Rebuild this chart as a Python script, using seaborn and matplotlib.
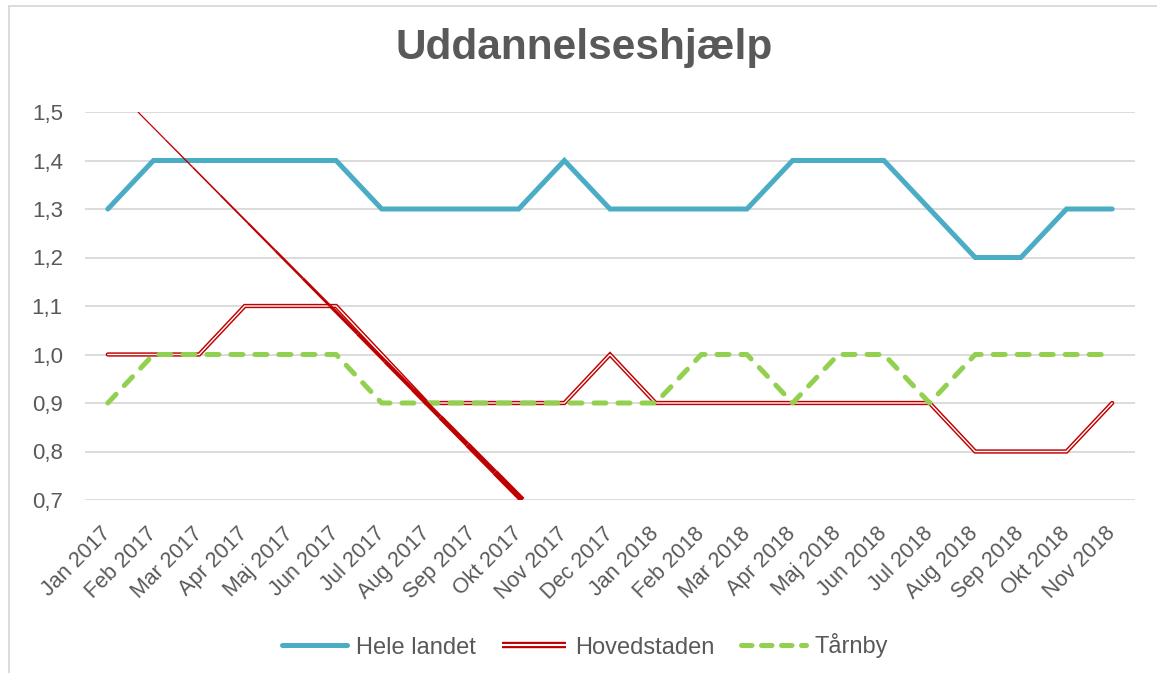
import numpy as np
import pandas as pd
import matplotlib
matplotlib.use("Agg")
import matplotlib.pyplot as plt
import matplotlib.patheffects as pe
import seaborn as sns
from matplotlib.lines import Line2D
from matplotlib.patches import Rectangle

# ---------------- data ----------------
months = ["Jan 2017", "Feb 2017", "Mar 2017", "Apr 2017", "Maj 2017", "Jun 2017",
          "Jul 2017", "Aug 2017", "Sep 2017", "Okt 2017", "Nov 2017", "Dec 2017",
          "Jan 2018", "Feb 2018", "Mar 2018", "Apr 2018", "Maj 2018", "Jun 2018",
          "Jul 2018", "Aug 2018", "Sep 2018", "Okt 2018", "Nov 2018"]
hele_landet = [1.3, 1.4, 1.4, 1.4, 1.4, 1.4, 1.3, 1.3, 1.3, 1.3, 1.4, 1.3,
               1.3, 1.3, 1.3, 1.4, 1.4, 1.4, 1.3, 1.2, 1.2, 1.3, 1.3]
hovedstaden = [1.0, 1.0, 1.0, 1.1, 1.1, 1.1, 1.0, 0.9, 0.9, 0.9, 0.9, 1.0,
               0.9, 0.9, 0.9, 0.9, 0.9, 0.9, 0.9, 0.8, 0.8, 0.8, 0.9]
taarnby = [0.9, 1.0, 1.0, 1.0, 1.0, 1.0, 0.9, 0.9, 0.9, 0.9, 0.9, 0.9,
           0.9, 1.0, 1.0, 0.9, 1.0, 1.0, 0.9, 1.0, 1.0, 1.0, 1.0]
# stray red diagonal stroke visible in the reference (month index, value)
stray_x = [0.66, 9.08]
stray_y = [1.5, 0.7]
yticks = [0.7, 0.8, 0.9, 1.0, 1.1, 1.2, 1.3, 1.4, 1.5]
title = "Uddannelseshjælp"
series_names = ["Hele landet", "Hovedstaden", "Tårnby"]

# ---------------- style ----------------
sns.set_theme(style="white")
plt.rcParams['font.family'] = ['Liberation Sans', 'DejaVu Sans']
TXT = "#595959"
BLUE = "#4BACC6"
RED = "#C00000"
GREEN = "#92D050"
GRID = "#D9D9D9"

df = pd.DataFrame({"idx": np.arange(len(months)),
                   "hele": hele_landet, "hov": hovedstaden, "taa": taarnby})

fig = plt.figure(figsize=(11.57, 6.73), dpi=100)
ax = fig.add_axes([85/1157, 1-500/673, (1135-85)/1157, (500-112)/673])

# gridlines
for yv in yticks:
    ax.axhline(yv, color=GRID, lw=1.3, zorder=0)

double_red = [pe.Stroke(linewidth=3.1, foreground=RED), pe.Normal()]

sns.lineplot(data=df, x="idx", y="hele", ax=ax, color=BLUE, lw=3.6,
             solid_capstyle="round", solid_joinstyle="miter", zorder=3)
sns.lineplot(data=df, x="idx", y="hov", ax=ax, color="white", lw=1.0,
             solid_joinstyle="miter", path_effects=double_red, zorder=4)
sns.lineplot(data=df, x="idx", y="taa", ax=ax, color=GREEN, lw=3.6,
             dashes=False, zorder=5)
ln = ax.lines[-1]
ln.set_dashes((2.4, 2.4))
ln.set_dash_capstyle("round")
ln.set_dash_joinstyle("round")

# stray diagonal, tapering from thin to thick
n = 14
xs = np.linspace(stray_x[0], stray_x[1], n + 1)
ys = np.linspace(stray_y[0], stray_y[1], n + 1)
for i in range(n):
    w = 0.9 + 3.4 * (i / (n - 1)) ** 1.4
    ax.plot(xs[i:i+2], ys[i:i+2], color=RED, lw=w, solid_capstyle="butt", zorder=6)

ax.set_xlim(-0.5, len(months) - 0.5)
ax.set_ylim(0.7, 1.5)
ax.set_yticks(yticks)
ax.set_yticklabels([f"{v:.1f}".replace(".", ",") for v in yticks])
ax.set_xticks(np.arange(len(months)))
ax.set_xticklabels(months, rotation=45, ha="right", va="center",
                   rotation_mode="anchor")
ax.tick_params(axis="x", length=0, pad=22, labelsize=15.5, labelcolor=TXT)
ax.tick_params(axis="y", length=0, pad=16, labelsize=16, labelcolor=TXT)
ax.set_xlabel("")
ax.set_ylabel("")
for s in ax.spines.values():
    s.set_visible(False)
ax.grid(False)
if ax.get_legend():
    ax.get_legend().remove()

# title
fig.text(584/1157, 1-59/673, title, ha="center", va="baseline",
         fontsize=30.5, fontweight="bold", color=TXT)

# legend
h1 = Line2D([], [], color=BLUE, lw=3.6, solid_capstyle="round")
h2 = Line2D([], [], color="white", lw=1.5, solid_capstyle="butt",
            path_effects=[pe.Stroke(linewidth=4.6, foreground=RED), pe.Normal()])
h3 = Line2D([], [], color=GREEN, lw=3.6, dashes=(2.1, 1.9), dash_capstyle="round")
fig.legend([h1, h2, h3], series_names, loc="center",
           bbox_to_anchor=(585/1157, 1-646/673), ncol=3, frameon=False,
           fontsize=17, labelcolor=TXT, handlelength=2.75, handletextpad=0.38,
           columnspacing=1.1)

# chart-area border
fig.patches.append(Rectangle((9/1157, -0.05), 1.2, 1 - 6/673 + 0.05,
                             transform=fig.transFigure, fill=False,
                             edgecolor=GRID, lw=1.3, zorder=0))

fig.savefig("out.png", dpi=100)
